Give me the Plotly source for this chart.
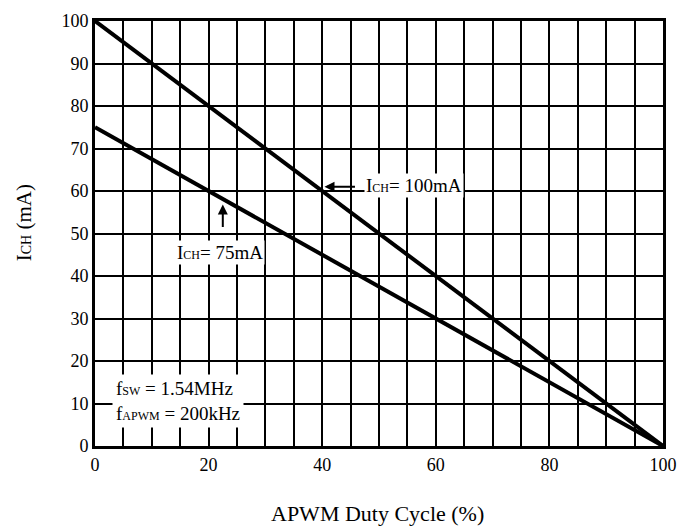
import plotly.graph_objects as go

# Charge current vs. APWM duty cycle
duty = [0, 100]
ich_100 = [100, 0]
ich_75 = [75, 0]

x_ticks = list(range(0, 101, 5))
x_labels = [str(v) if v % 20 == 0 else "" for v in x_ticks]
y_ticks = list(range(0, 101, 10))

FONT = "Liberation Serif, Times New Roman, serif"
SUB = '<span style="font-size:12px">{}</span>'

fig = go.Figure()
fig.add_trace(go.Scatter(x=duty, y=ich_100, mode="lines",
                         line=dict(color="black", width=4), showlegend=False))
fig.add_trace(go.Scatter(x=duty, y=ich_75, mode="lines",
                         line=dict(color="black", width=4), showlegend=False))

annotations = [
    # arrow to the 100mA curve
    dict(x=40.4, y=61, ax=32, ay=0, text="", showarrow=True,
         arrowhead=2, arrowsize=1, arrowwidth=2, arrowcolor="black"),
    dict(x=47.4, y=61.2, text="I" + SUB.format("CH") + "= 100mA", showarrow=False,
         xanchor="left", yanchor="middle", bgcolor="white", borderpad=1,
         font=dict(family=FONT, size=19, color="black")),
    # arrow to the 75mA curve
    dict(x=22.5, y=56.8, ax=0, ay=24, text="", showarrow=True,
         arrowhead=2, arrowsize=1, arrowwidth=2, arrowcolor="black"),
    dict(x=22.0, y=45.5, text="I" + SUB.format("CH") + "= 75mA", showarrow=False,
         xanchor="center", yanchor="middle", bgcolor="white", borderpad=1,
         font=dict(family=FONT, size=19, color="black")),
    # operating conditions
    dict(x=3.0, y=10.6, text="f" + SUB.format("SW") + " = 1.54MHz<br>f"
         + SUB.format("APWM") + " = 200kHz",
         showarrow=False, xanchor="left", yanchor="middle", align="left",
         bgcolor="white", borderpad=3,
         font=dict(family=FONT, size=19, color="black")),
    # axis titles
    dict(xref="paper", yref="paper", x=0.497, y=-0.158,
         text="APWM Duty Cycle (%)", showarrow=False,
         xanchor="center", yanchor="middle",
         font=dict(family=FONT, size=22, color="black")),
    dict(xref="paper", yref="paper", x=-0.126, y=0.525,
         text="I" + '<span style="font-size:14px">CH</span>' + " (mA)",
         showarrow=False, textangle=-90, xanchor="center", yanchor="middle",
         font=dict(family=FONT, size=21, color="black")),
]

fig.update_layout(
    width=689, height=528,
    margin=dict(l=95, r=26, t=11, b=82),
    paper_bgcolor="white", plot_bgcolor="white",
    font=dict(family=FONT, size=18, color="black"),
    annotations=annotations,
    xaxis=dict(
        range=[0, 100], tickvals=x_ticks, ticktext=x_labels,
        showgrid=True, gridcolor="black", gridwidth=2,
        showline=True, linecolor="black", linewidth=3, mirror=True,
        ticks="", zeroline=False,
        tickfont=dict(family=FONT, size=18),
    ),
    yaxis=dict(
        range=[0, 100], tickvals=y_ticks,
        showgrid=True, gridcolor="black", gridwidth=2,
        showline=True, linecolor="black", linewidth=3, mirror=True,
        ticks="", zeroline=False,
        tickfont=dict(family=FONT, size=18),
    ),
)

fig.write_html("out.html")
